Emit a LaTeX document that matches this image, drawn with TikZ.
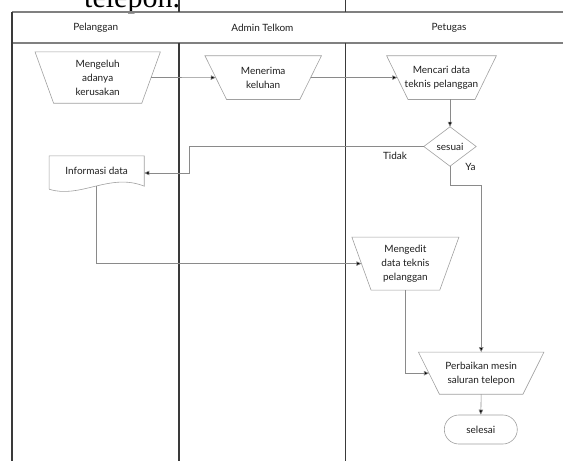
\documentclass[tikz,border=0pt]{standalone}
\usepackage{fontspec}
\setmainfont{Lato}
\newfontfamily\serifx{Liberation Serif}
\usetikzlibrary{arrows.meta,calc}
\definecolor{lanec}{HTML}{3A3A3A}
\definecolor{hdrc}{HTML}{808080}
\definecolor{shapec}{HTML}{A0A0A0}
\definecolor{connc}{HTML}{8A8A8A}
\definecolor{txtc}{HTML}{1E1E1E}
\tikzset{
  proc/.style={draw=none, inner sep=0pt, align=center, font=\fontsize{10}{14}\selectfont, text=txtc},
  shapeline/.style={draw=shapec, line width=0.6pt},
  conn/.style={draw=connc, line width=0.6pt, -{Triangle[length=5pt,width=4.5pt,fill=black]}},
  lane/.style={draw=lanec, line width=1.1pt},
  hline/.style={draw=hdrc, line width=1.1pt},
  hlinetwo/.style={draw=hdrc, line width=1.6pt},
  hdr/.style={inner sep=0pt, font=\fontsize{10}{12}\selectfont, text=txtc},
  lbl/.style={inner sep=0pt, font=\fontsize{10}{12}\selectfont, text=txtc},
  term/.style={draw=shapec, line width=0.6pt, rounded corners=14.5pt, minimum width=73pt, minimum height=29pt, inner sep=0pt, font=\fontsize{10}{12}\selectfont, text=txtc}
}
\newcommand\trapout[2]{\draw[shapeline] ([xshift=-#2pt]#1.north west) -- ([xshift=#2pt]#1.north east) -- ([xshift=-#2pt]#1.south east) -- ([xshift=#2pt]#1.south west) -- cycle;}
\begin{document}
\begin{tikzpicture}[x=1pt,y=-1pt]
\useasboundingbox (0,0) rectangle (563,461);
\clip (0,0) rectangle (563,461);
% fragment of page text
\node[anchor=base west, inner sep=0pt, font=\serifx\fontsize{30}{30}\selectfont, text=black] (tel) at (84,7.5) {telepon.};
% swimlanes
\draw[hline] (12,12) -- (563,12);
\draw[hlinetwo] (12,42.7) -- (563,42.7);
\draw[lane] (12,12) -- (12,461);
\draw[lane] (179,0) -- (179,12);
\draw[lane] (179,42.7) -- (179,461);
\draw[lane] (345.7,0) -- (345.7,12);
\draw[lane] (345.7,42.7) -- (345.7,461);
\node[hdr] (h1) at (95.7,27.7) {Pelanggan};
\node[hdr] (h2) at (262.4,27.7) {Admin Telkom};
\node[hdr] (h3) at (449,27.7) {Petugas};
% process nodes
\node[proc, minimum width=106.4pt, minimum height=51pt] (mengeluh) at (97.7,77.5) {Mengeluh\\adanya\\kerusakan};
\trapout{mengeluh}{9.3}
\node[proc, minimum width=94.5pt, minimum height=43.3pt] (menerima) at (263.2,77.6) {Menerima\\keluhan};
\trapout{menerima}{10.8}
\node[proc, minimum width=88pt, minimum height=43.3pt] (mencari) at (441.5,77.6) {Mencari data\\teknis pelanggan};
\trapout{mencari}{10.7}
\node[proc, minimum width=52pt, minimum height=39pt] (sesuai) at (450,146.5) {sesuai};
\draw[shapeline] (sesuai.north) -- (sesuai.east) -- (sesuai.south) -- (sesuai.west) -- cycle;
\node[proc, minimum width=94.7pt, minimum height=30pt] (info) at (96.7,171) {Informasi data};
\draw[shapeline] ([yshift=-3pt]info.south west) -- (info.north west) -- (info.north east) -- (info.south east)
  .. controls ([xshift=13.3pt,yshift=14pt]info.south) and ([xshift=-16.7pt,yshift=-13pt]info.south) .. ([yshift=-3pt]info.south west);
\node[proc, minimum width=87.5pt, minimum height=52.7pt] (mengedit) at (405.4,263.6) {Mengedit\\data teknis\\pelanggan};
\trapout{mengedit}{9.6}
\node[proc, minimum width=104.1pt, minimum height=41.7pt] (perbaikan) at (481.2,373.2) {Perbaikan mesin\\saluran telepon};
\trapout{perbaikan}{10.5}
\node[term] (selesai) at (480.8,429.5) {selesai};
% labels
\node[lbl] (tidak) at (395,155.5) {Tidak};
\node[lbl] (ya) at (470.5,166.5) {Ya};
% connectors
\coordinate (tk) at (189,146.5);
\draw[conn] (mengeluh.east) -- (menerima.west);
\draw[conn] (menerima.east) -- (mencari.west);
\draw[conn] (sesuai.north |- mencari.south) -- (sesuai.north);
\draw[conn] (sesuai.west) -- (tk) |- ([yshift=-2pt]info.east);
\draw[conn] (info.south) |- (mengedit.west);
\draw[conn] (sesuai.south) -- ++(0,19) -| (perbaikan.north);
\draw[conn] (mengedit.south) |- (perbaikan.west);
\draw[conn] (perbaikan.south) -- (selesai.north);
\end{tikzpicture}
\end{document}
